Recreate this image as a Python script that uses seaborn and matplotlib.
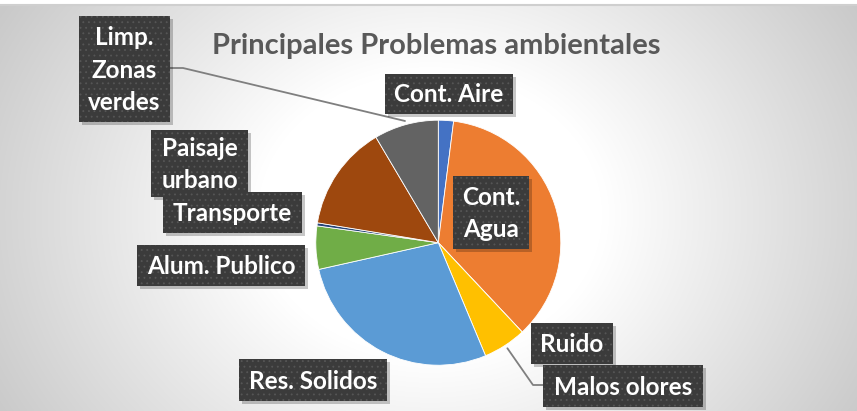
import numpy as np
import matplotlib
matplotlib.use("Agg")
import matplotlib.pyplot as plt
import seaborn as sns
from matplotlib.patches import Rectangle

sns.set_theme(style="white")
plt.rcParams['font.family'] = ['Lato', 'DejaVu Sans']
plt.rcParams['hatch.linewidth'] = 0.6

# ---- data (clockwise from 12 o'clock) ----
categories = ["Cont. Aire", "Cont. Agua", "Malos olores", "Ruido", "Res. Solidos",
              "Alum. Publico", "Transporte", "Paisaje urbano", "Limp. Zonas verdes"]
values = [2.0, 36.0, 0.0, 5.7, 27.8, 5.7, 0.4, 13.9, 8.5]
label_texts = ["Cont. Aire", "Cont.\nAgua", "Malos olores", "Ruido", "Res. Solidos",
               "Alum. Publico", "Transporte", "Paisaje\nurbano", "Limp.\nZonas\nverdes"]
colors = ["#4472C4", "#ED7D31", "#A5A5A5", "#FFC000", "#5B9BD5",
          "#70AD47", "#264478", "#9E480E", "#636363"]
title = "Principales Problemas ambientales"

# ---- layout (pixels) ----
W, H = 857, 411
CX, CY, R = 438.3, 242.7, 122.5
# label box: (x0, y0, x1, y1)
boxes = {
    "Cont. Aire": (385, 74, 513, 114),
    "Cont. Agua": (453, 176, 529, 249),
    "Malos olores": (543, 365, 703, 407),
    "Ruido": (531, 323, 613, 364),
    "Res. Solidos": (239, 359, 387, 401),
    "Alum. Publico": (137, 245, 305, 286),
    "Transporte": (163, 192, 302, 233),
    "Paisaje urbano": (151, 130, 248, 197),
    "Limp. Zonas verdes": (79, 16, 170, 122),
}
box_order = ["Limp. Zonas verdes", "Cont. Aire", "Cont. Agua", "Transporte", "Paisaje urbano",
             "Alum. Publico", "Res. Solidos", "Ruido", "Malos olores"]

fig = plt.figure(figsize=(W / 100, H / 100), dpi=100)

# background radial gradient
bg = fig.add_axes([0, 0, 1, 1], zorder=0)
yy, xx = np.mgrid[0:H, 0:W]
d = np.sqrt(((xx - 430) / 1.15) ** 2 + ((yy - 215) / 0.95) ** 2)
t = np.clip((d - 150) / 280, 0, 1)
g = 1.0 - 0.21 * t
img = np.dstack([g, g, g])
img[:5, :, :] = 1.0
bg.imshow(img, extent=(0, W, H, 0), aspect='auto', interpolation='bilinear')
bg.plot([0, W], [5, 5], color="#cfcfcf", lw=1.5)
bg.set_xlim(0, W)
bg.set_ylim(H, 0)
bg.axis("off")

# pie
pie_ax = fig.add_axes([(CX - R) / W, (H - CY - R) / H, 2 * R / W, 2 * R / H], zorder=1)
wedges, _ = pie_ax.pie(values, colors=colors, startangle=90, counterclock=False,
                       radius=1.0, wedgeprops=dict(edgecolor="white", linewidth=0.6))
pie_ax.set_xlim(-1, 1)
pie_ax.set_ylim(-1, 1)
pie_ax.set_aspect("equal")
pie_ax.axis("off")

# overlay for labels
ov = fig.add_axes([0, 0, 1, 1], zorder=2)
ov.set_xlim(0, W)
ov.set_ylim(H, 0)
ov.axis("off")
ov.patch.set_alpha(0)

def wedge_point(cat, r=1.03, offset=0.0):
    w = wedges[categories.index(cat)]
    phi = np.deg2rad((w.theta1 + w.theta2) / 2 + offset)
    return CX + R * r * np.cos(phi), CY - R * r * np.sin(phi)

# leader lines
px, py = wedge_point("Limp. Zonas verdes")
ov.plot([170, 183, px], [68, 68, py], color="#7f7f7f", lw=1.3, zorder=1)
px, py = wedge_point("Malos olores", offset=-10)
ov.plot([px, 533, 543], [py, 385, 385], color="#7f7f7f", lw=1.3, zorder=1)

for cat in box_order:
    x0, y0, x1, y1 = boxes[cat]
    ov.add_patch(Rectangle((x0 + 3, y0 + 3), x1 - x0, y1 - y0, facecolor="#000000",
                           alpha=0.22, edgecolor="none", zorder=2))
    ov.add_patch(Rectangle((x0, y0), x1 - x0, y1 - y0, facecolor="#3b3b3b",
                           edgecolor="#565656", linewidth=0, hatch="...", zorder=3))
    ov.text((x0 + x1) / 2, (y0 + y1) / 2 + 1, label_texts[categories.index(cat)],
            color="white", fontsize=17.5, fontweight="bold", ha="center", va="center",
            linespacing=1.5, zorder=4)

ov.text(436, 46, title, color="#595959", fontsize=21, fontweight="bold",
        ha="center", va="center", zorder=4)

fig.savefig("out.png", dpi=100)
